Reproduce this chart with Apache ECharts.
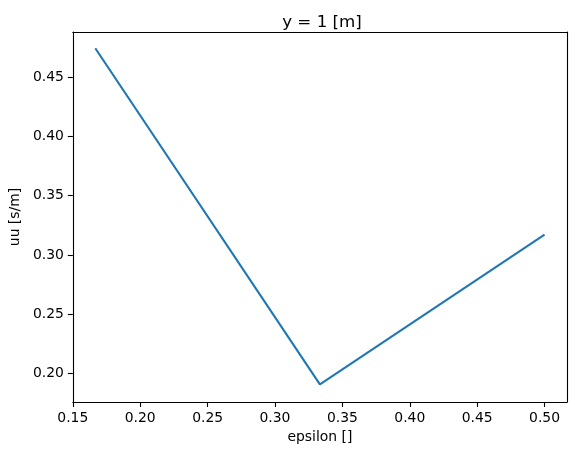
<!DOCTYPE html>
<html>
<head>
<meta charset="utf-8">
<script src="https://cdn.jsdelivr.net/npm/echarts@6/dist/echarts.min.js"></script>
<style>
html,body{margin:0;padding:0;background:#fff;}
#chart{width:575px;height:455px;}
</style>
</head>
<body>
<div id="chart"></div>
<script>
const epsilon = [1/6, 1/3, 0.5];
const uu = [0.4745, 0.1907, 0.3172];
const xTicks = [0.15, 0.20, 0.25, 0.30, 0.35, 0.40, 0.45, 0.50];
const yTicks = [0.20, 0.25, 0.30, 0.35, 0.40, 0.45];
const titleText = 'y = 1 [m]';
const xName = 'epsilon []';
const yName = 'uu [s/m]';

const xMin = 0.15, xMax = 0.51667;
const yMin = 0.1758, yMax = 0.4882;
const FONT = 'DejaVu Sans';
const lineStyle = {color: '#000', width: 1.1};

const chart = echarts.init(document.getElementById('chart'), null, {renderer: 'canvas'});
chart.setOption({
  animation: false,
  backgroundColor: '#fff',
  title: {
    text: titleText,
    left: 317,
    top: 9,
    textAlign: 'center',
    textStyle: {fontFamily: FONT, fontSize: 16.7, fontWeight: 'normal', color: '#000'}
  },
  grid: {left: 70, right: 8, top: 32, bottom: 53, containLabel: false},
  xAxis: [{
    type: 'value', min: xMin, max: xMax, position: 'bottom',
    name: xName, nameLocation: 'middle', nameGap: 27,
    nameTextStyle: {fontFamily: FONT, fontSize: 13.9, color: '#000'},
    axisLine: {show: true, onZero: false, lineStyle: lineStyle},
    axisTick: {show: true, length: 5, inside: false, customValues: xTicks, lineStyle: lineStyle},
    axisLabel: {show: true, margin: 9, customValues: xTicks,
      formatter: v => v.toFixed(2),
      fontFamily: FONT, fontSize: 13.9, color: '#000'},
    splitLine: {show: false}
  }, {
    type: 'value', min: xMin, max: xMax, position: 'top',
    axisLine: {show: true, onZero: false, lineStyle: lineStyle},
    axisTick: {show: false}, axisLabel: {show: false}, splitLine: {show: false}
  }],
  yAxis: [{
    type: 'value', min: yMin, max: yMax, position: 'left',
    name: yName, nameLocation: 'middle', nameGap: 47, nameRotate: 90,
    nameTextStyle: {fontFamily: FONT, fontSize: 13.9, color: '#000'},
    axisLine: {show: true, onZero: false, lineStyle: lineStyle},
    axisTick: {show: true, length: 5, inside: false, customValues: yTicks, lineStyle: lineStyle},
    axisLabel: {show: true, margin: 9, customValues: yTicks,
      formatter: v => v.toFixed(2),
      fontFamily: FONT, fontSize: 13.9, color: '#000'},
    splitLine: {show: false}
  }, {
    type: 'value', min: yMin, max: yMax, position: 'right',
    axisLine: {show: true, onZero: false, lineStyle: lineStyle},
    axisTick: {show: false}, axisLabel: {show: false}, splitLine: {show: false}
  }],
  series: [{
    type: 'line',
    xAxisIndex: 0, yAxisIndex: 0,
    data: epsilon.map((x, i) => [x, uu[i]]),
    showSymbol: false,
    symbol: 'none',
    lineStyle: {color: '#1f77b4', width: 2.1},
    itemStyle: {color: '#1f77b4'}
  }]
});
</script>
</body>
</html>
